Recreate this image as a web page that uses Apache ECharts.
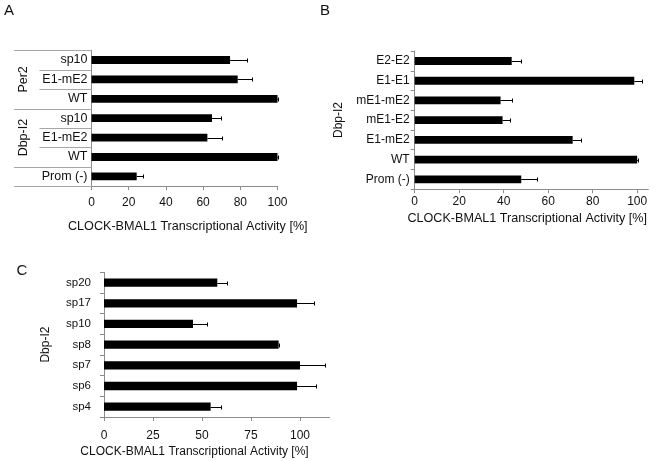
<!DOCTYPE html>
<html><head><meta charset="utf-8">
<script src="https://cdn.jsdelivr.net/npm/echarts@6/dist/echarts.min.js"></script>
<style>html,body{margin:0;padding:0;background:#fff}#c{width:663px;height:461px}</style>
</head><body><div id="c"></div>
<script>
// ---- Panel A ----
const groupsA = ['Per2','Per2','Per2','Dbp-I2','Dbp-I2','Dbp-I2',''];
const catsA   = ['sp10','E1-mE2','WT','sp10','E1-mE2','WT','Prom (-)'];
const valsA   = [74.5, 78.6, 100, 64.8, 62.3, 100, 24.3];
const errA    = [9.0, 7.6, 0, 4.7, 7.9, 0, 3.3];
const ticksA  = [0, 20, 40, 60, 80, 100];
// ---- Panel B ----
const catsB   = ['E2-E2','E1-E1','mE1-mE2','mE1-E2','E1-mE2','WT','Prom (-)'];
const valsB   = [43.6, 98.7, 38.6, 39.5, 71.0, 100, 47.9];
const errB    = [4.0, 3.3, 5.1, 3.2, 3.9, 0.4, 6.9];
const ticksB  = [0, 20, 40, 60, 80, 100];
// ---- Panel C ----
const catsC   = ['sp20','sp17','sp10','sp8','sp7','sp6','sp4'];
const valsC   = [57.8, 98.5, 45.4, 89.1, 100, 98.5, 54.4];
const errC    = [5.1, 8.8, 7.2, 0.3, 12.6, 9.9, 5.5];
const ticksC  = [0, 25, 50, 75, 100];
const groupC  = 'Dbp-I2';
const axisTitle = 'CLOCK-BMAL1 Transcriptional Activity [%]';

const FONT = '"Liberation Sans", Arial, sans-serif';
const AX = '#8c8c8c';
const TABLE = '#a6a6a6';
const TXT = '#111';

const chart = echarts.init(document.getElementById('c'), null, {renderer: 'canvas'});

function xAx(grid, max, ticks, margin) {
  return {
    gridIndex: grid, type: 'value', min: 0, max: max, interval: ticks[1] - ticks[0],
    axisLine: {show: true, lineStyle: {color: AX, width: 1}},
    axisTick: {show: true, length: 4, lineStyle: {color: AX}, customValues: ticks},
    axisLabel: {show: true, margin: margin, color: TXT, fontFamily: FONT, fontSize: 12, customValues: ticks},
    splitLine: {show: false}
  };
}
function yAx(grid, cats, margin, fs, showTick, fmt) {
  return {
    gridIndex: grid, type: 'category', data: cats, inverse: true,
    axisLine: {show: true, lineStyle: {color: AX, width: 1}},
    axisTick: {show: showTick, length: 4, lineStyle: {color: AX}},
    axisLabel: {margin: margin, color: TXT, fontFamily: FONT, fontSize: fs, interval: 0,
      formatter: fmt || (v => v)},
    splitLine: {show: false}
  };
}
function bars(idx, vals) {
  return {type: 'bar', xAxisIndex: idx, yAxisIndex: idx, data: vals, barWidth: '40%',
    itemStyle: {color: '#000'}, silent: true};
}
function errs(idx, vals, e) {
  return {
    type: 'custom', xAxisIndex: idx, yAxisIndex: idx, z: 5, silent: true,
    data: vals.map((v, i) => [v, i, v + e[i]]),
    encode: {x: [0, 2], y: 1},
    renderItem: function (params, api) {
      const y = api.value(1);
      const p0 = api.coord([api.value(0), y]);
      const p1 = api.coord([api.value(2), y]);
      const yy = Math.round(p0[1]) + 0.5;
      const xe = Math.round(p1[0]) + 0.5;
      return {type: 'group', children: [
        {type: 'line', shape: {x1: p0[0], y1: yy, x2: xe, y2: yy}, style: {stroke: '#000', lineWidth: 1}},
        {type: 'line', shape: {x1: xe, y1: yy - 2, x2: xe, y2: yy + 2}, style: {stroke: '#000', lineWidth: 1}}
      ]};
    }
  };
}
// table-like multi-level category axis for panel A
const X_OUT = 14, X_MID = 39.5, X_GRP = 24;
const tableA = {
  type: 'custom', xAxisIndex: 0, yAxisIndex: 0, silent: true, clip: false, z: 3,
  data: catsA.map((c, i) => [0, i]),
  encode: {x: 0, y: 1},
  renderItem: function (params, api) {
    const i = api.value(1);
    const c = api.coord([0, i]);
    const band = api.size([0, 1])[1];
    const top = Math.round(c[1] - band / 2) + 0.5;
    const bot = Math.round(c[1] + band / 2) + 0.5;
    const gx = c[0];
    const ch = [];
    const newGroup = (i === 0) || groupsA[i] !== groupsA[i - 1];
    ch.push({type: 'line', shape: {x1: newGroup ? X_OUT : X_MID, y1: top, x2: gx, y2: top},
      style: {stroke: TABLE, lineWidth: 1}});
    if (i === catsA.length - 1) {
      ch.push({type: 'line', shape: {x1: X_OUT, y1: bot, x2: gx, y2: bot}, style: {stroke: TABLE, lineWidth: 1}});
    }
    if (newGroup && groupsA[i]) {
      let n = 0;
      while (i + n < groupsA.length && groupsA[i + n] === groupsA[i]) n++;
      const mid = c[1] - band / 2 + n * band / 2;
      ch.push({type: 'text', x: X_GRP, y: mid, rotation: Math.PI / 2,
        style: {text: groupsA[i], font: '12.5px ' + FONT, fill: TXT,
          align: 'center', verticalAlign: 'middle', textAlign: 'center', textVerticalAlign: 'middle'}});
    }
    return {type: 'group', children: ch};
  }
};

function txt(t, x, y, size, rot) {
  return {type: 'text', x: x, y: y, rotation: rot || 0, silent: true,
    style: {text: t, font: size + 'px ' + FONT, fill: TXT,
      align: 'center', verticalAlign: 'middle', textAlign: 'center', textVerticalAlign: 'middle'}};
}

const option = {
  animation: false,
  backgroundColor: '#fff',
  grid: [
    {left: 91.5, top: 50.3, width: 186, height: 135.8},
    {left: 414.7, top: 51.1, width: 233.6, height: 138.1},
    {left: 104, top: 272.3, width: 225.4, height: 144.7}
  ],
  xAxis: [xAx(0, 100, ticksA, 11), xAx(1, 105, ticksB, 6), xAx(2, 115, ticksC, 13)],
  yAxis: [
    yAx(0, catsA.map((c, i) => i + '|' + c), 4, 12.5, false, v => v.split('|')[1]),
    yAx(1, catsB, 5, 12, true),
    yAx(2, catsC, 13, 11.5, true)
  ],
  series: [
    bars(0, valsA), bars(1, valsB), bars(2, valsC),
    errs(0, valsA, errA), errs(1, valsB, errB), errs(2, valsC, errC),
    tableA
  ],
  graphic: [
    txt('A', 9, 11, 15), txt('B', 325, 11, 15), txt('C', 22, 271, 15),
    txt(axisTitle, 187.8, 226.7, 12.6),
    txt(axisTitle, 527.2, 218.5, 12.6),
    txt(axisTitle, 194.5, 451.5, 12),
    txt(groupC, 339, 120, 12, Math.PI / 2),
    txt(groupC, 46, 344.6, 12, Math.PI / 2)
  ]
};
chart.setOption(option);
</script>
</body></html>
